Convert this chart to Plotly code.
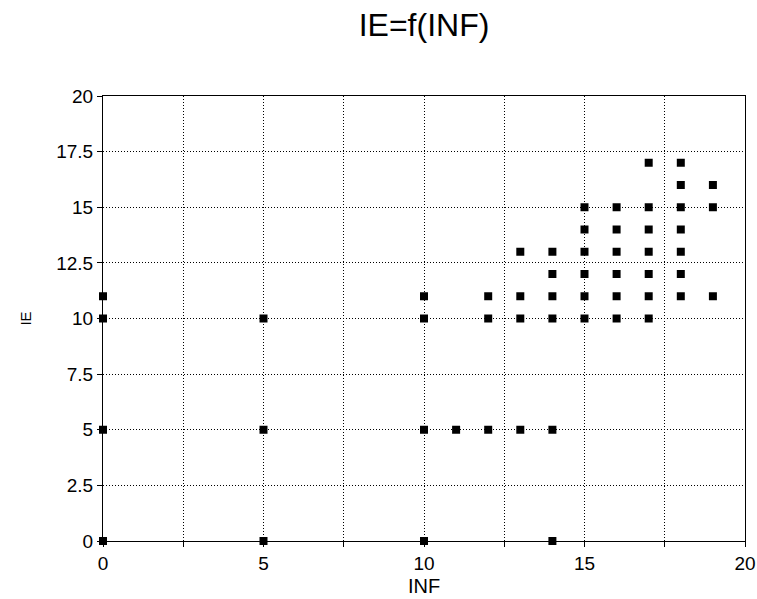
import plotly.graph_objects as go

# Data (INF on x, IE on y)
inf_values = [0, 0, 0, 0,
              5, 5, 5,
              10, 10, 10, 10,
              11,
              12, 12, 12,
              13, 13, 13, 13,
              14, 14, 14, 14, 14, 14,
              15, 15, 15, 15, 15, 15,
              16, 16, 16, 16, 16, 16,
              17, 17, 17, 17, 17, 17, 17,
              18, 18, 18, 18, 18, 18, 18,
              19, 19, 19]
ie_values = [0, 5, 10, 11,
             0, 5, 10,
             0, 5, 10, 11,
             5,
             5, 10, 11,
             5, 10, 11, 13,
             0, 5, 10, 11, 12, 13,
             10, 11, 12, 13, 14, 15,
             10, 11, 12, 13, 14, 15,
             10, 11, 12, 13, 14, 15, 17,
             11, 12, 13, 14, 15, 16, 17,
             11, 15, 16]

tick_vals = [0, 2.5, 5, 7.5, 10, 12.5, 15, 17.5, 20]
x_tick_text = ["0", "", "5", "", "10", "", "15", "", "20"]
y_tick_text = ["0", "2.5", "5", "7.5", "10", "12.5", "15", "17.5", "20"]

FONT = "Liberation Sans, Arial, sans-serif"
W, H = 757, 599

fig = go.Figure()
fig.add_trace(go.Scatter(
    x=inf_values, y=ie_values, mode="markers",
    marker=dict(symbol="square", size=8, color="black", line=dict(width=0)),
    cliponaxis=False, showlegend=False,
))

axis_common = dict(
    range=[0, 20], tickmode="array", tickvals=tick_vals,
    showgrid=True, gridcolor="black", gridwidth=1, griddash="1px,2px",
    showline=True, linecolor="black", linewidth=1, mirror=True,
    ticks="outside", ticklen=5, tickcolor="black", tickwidth=1,
    zeroline=False, automargin=False,
    tickfont=dict(family=FONT, size=19, color="black"),
)

fig.update_xaxes(**axis_common, ticktext=x_tick_text,
                 title=dict(text="INF", font=dict(family=FONT, size=20, color="black"), standoff=6))
fig.update_yaxes(**axis_common, ticktext=y_tick_text,
                 title=dict(text="IE", font=dict(family=FONT, size=15, color="black"), standoff=20))

fig.update_layout(
    width=W, height=H,
    margin=dict(l=103, r=12, t=96, b=58, autoexpand=False),
    paper_bgcolor="white", plot_bgcolor="white",
    title=dict(text="IE=f(INF)", font=dict(family=FONT, size=32, color="black"),
               x=(103 + 745) / 2 / W, xanchor="center",
               y=1 - 25 / H, yanchor="middle", yref="container"),
)

# remove the browser's default body margin so the figure sits at the page origin
fig.write_html("out.html", config={"displayModeBar": False},
               post_script="document.body.style.margin='0';")
